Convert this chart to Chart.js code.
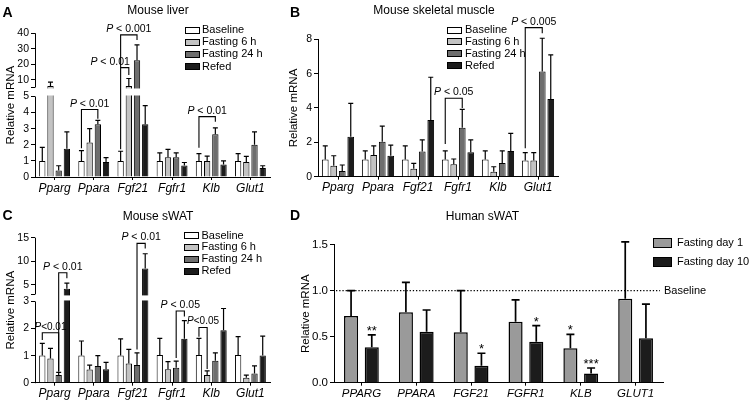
<!DOCTYPE html>
<html><head><meta charset="utf-8"><title>Fasting gene expression</title>
<script src="https://cdn.jsdelivr.net/npm/chart.js@4.4.1/dist/chart.umd.min.js"></script>
<style>
html,body{margin:0;padding:0;background:#fff;}
body{width:749px;height:402px;position:relative;overflow:hidden;font-family:"Liberation Sans",Arial,Helvetica,sans-serif;color:#000;}
canvas{position:absolute;}
.t{position:absolute;white-space:nowrap;}
.box{position:absolute;box-sizing:border-box;border:1px solid #000;}
</style></head><body>
<canvas id="cA" width="280" height="200" style="left:0px;top:0px"></canvas>
<canvas id="cB" width="285" height="200" style="left:283px;top:0px"></canvas>
<canvas id="cC" width="280" height="202" style="left:0px;top:200px"></canvas>
<canvas id="cD" width="454" height="202" style="left:295px;top:200px"></canvas>
<script>
// ---------- categories ----------
const mouseGenes = ['Pparg','Ppara','Fgf21','Fgfr1','Klb','Glut1'];
const humanGenes = ['PPARG','PPARA','FGF21','FGFR1','KLB','GLUT1'];
const mouseGroups = ['Baseline','Fasting 6 h','Fasting 24 h','Refed'];
const humanGroups = ['Fasting day 1','Fasting day 10'];

// ---------- A: mouse liver ----------
const liverBaseline = [1,1,1,1,1,1];
const liverFast6    = [6.0,2.15,6.0,1.22,1.0,0.93];
const liverFast24   = [0.4,3.27,22.6,1.22,2.65,2.0];
const liverRefed    = [1.76,0.93,3.27,0.72,0.77,0.56];
const liverBaselineErr = [1.84,1.64,1.6,1.5,1.45,1.45];
const liverFast6Err    = [8.4,3.0,10.8,1.72,1.3,1.28];
const liverFast24Err   = [0.7,3.52,32.5,1.5,3.05,2.8];
const liverRefedErr    = [2.8,1.2,4.43,0.9,1.0,0.7];
const liverTicksLow  = [0,1,2,3,4,5];
const liverTicksHigh = [5,10,20,30,40];
const liverBrackets = [
  {cat:1, from:0, to:2, level:4.19, footFrom:1.78, footTo:3.62, label:'P < 0.01'},
  {cat:2, from:0, to:1, level:17.8, footFrom:1.72, footTo:13.1, label:'P < 0.01', align:'right'},
  {cat:2, from:0, to:2, level:38.9, footFrom:17.8, footTo:35.6, label:'P < 0.001'},
  {cat:4, from:0, to:2, level:3.75, footFrom:1.82, footTo:3.43, label:'P < 0.01'}
];

// ---------- B: mouse skeletal muscle ----------
const muscleBaseline = [1,1,1,1,1,0.95];
const muscleFast6    = [0.64,1.26,0.47,0.72,0.29,0.95];
const muscleFast24   = [0.33,2.04,1.46,2.85,0.8,6.12];
const muscleRefed    = [2.33,1.22,3.3,1.42,1.5,4.52];
const muscleBaselineErr = [1.8,1.5,1.79,1.5,1.5,1.4];
const muscleFast6Err    = [1.22,1.8,0.78,1.03,0.58,1.4];
const muscleFast24Err   = [0.68,2.95,2.14,3.92,1.5,8.06];
const muscleRefedErr    = [4.27,1.84,5.79,2.14,2.52,7.09];
const muscleTicks = [0,2,4,6,8];
const muscleBrackets = [
  {cat:3, from:0, to:2, level:4.57, footFrom:1.9, footTo:4.0, label:'P < 0.05'},
  {cat:5, from:0, to:2, level:8.68, footFrom:1.65, footTo:8.35, label:'P < 0.005'}
];

// ---------- C: mouse sWAT ----------
const swatBaseline = [1,1,1,1.02,1.02,1.02];
const swatFast6    = [0.89,0.49,0.71,0.5,0.28,0.18];
const swatFast24   = [0.28,0.62,0.65,0.55,0.81,0.34];
const swatRefed    = [4.2,0.5,8.5,1.62,1.94,1.0];
const swatBaselineErr = [1.45,1.54,1.62,1.64,1.64,1.7];
const swatFast6Err    = [1.27,0.65,1.23,0.78,0.44,0.28];
const swatFast24Err   = [0.38,1.0,1.1,0.8,1.1,0.62];
const swatRefedErr    = [5.4,0.75,11.6,2.29,2.74,1.72];
const swatTicksLow  = [0,1,2,3];
const swatTicksHigh = [3,5,10,15];
const swatBrackets = [
  {cat:0, from:0, to:2, level:1.845, footFrom:1.58, footTo:0.41, label:'P<0.01'},
  {cat:0, from:2, to:3, level:7.58, footFrom:0.41, footTo:6.4, label:'P < 0.01'},
  {cat:2, from:2, to:3, level:13.8, footFrom:1.23, footTo:12.7, label:'P < 0.01'},
  {cat:3, from:2, to:3, level:2.65, footFrom:0.91, footTo:2.44, label:'P < 0.05'},
  {cat:4, from:0, to:1, level:2.04, footFrom:1.70, footTo:0.506, label:'P<0.05'}
];

// ---------- D: human sWAT ----------
const humanDay1     = [0.725,0.765,0.548,0.663,0.374,0.913];
const humanDay10    = [0.385,0.555,0.185,0.446,0.1,0.483];
const humanDay1Err  = [1.0,1.09,1.0,0.9,0.526,1.53];
const humanDay10Err = [0.52,0.79,0.32,0.62,0.16,0.855];
const humanDay1Stars  = ['','','','','*',''];
const humanDay10Stars = ['**','','*','*','***',''];
const humanTicks = [0,0.5,1.0,1.5];
const baselineLevel = 1.0;

// ---------- styling ----------
const FONT = '"Liberation Sans", Arial, Helvetica, sans-serif';
Chart.defaults.font.family = FONT;
Chart.defaults.color = '#000';
const mouseColors = ['#ffffff','#c3c3c3','#6e6e6e','#1c1c1c'];
const humanColors = ['#9a9a9a','#1c1c1c'];

function brokenAxis(lowMax, gap, factor){
  const up = v => lowMax + gap + (v - lowMax) * factor;
  return {lowMax, up, map: v => (v <= lowMax ? v : up(v))};
}
const liverAxis = brokenAxis(5, 0.56, 0.0963);
const swatAxis  = brokenAxis(3, 0.26, 0.1745);

function annotPlugin(cfg){
  return {
    id: 'annot',
    afterDatasetsDraw(chart){
      const ctx = chart.ctx, ys = chart.scales.y, a = chart.chartArea;
      const map = cfg.axis ? cfg.axis.map : (v => v);
      const py = v => ys.getPixelForValue(map(v));
      ctx.save();
      if (cfg.axis){
        const yLow = ys.getPixelForValue(cfg.axis.lowMax);
        const yUp = ys.getPixelForValue(cfg.axis.up(cfg.axis.lowMax));
        ctx.fillStyle = '#fff';
        ctx.fillRect(a.left + 1, yUp + 1, a.right - a.left, yLow - yUp - 2);
        ctx.strokeStyle = '#000'; ctx.lineWidth = 1;
        const x = Math.round(a.left) + 0.5;
        ctx.beginPath();
        ctx.moveTo(x, ys.getPixelForValue(0) + 0.5); ctx.lineTo(x, yLow);
        ctx.moveTo(x, yUp); ctx.lineTo(x, ys.getPixelForValue(ys.max));
        ctx.stroke();
      }
      if (cfg.refLine !== undefined){
        const y = py(cfg.refLine);
        ctx.strokeStyle = '#000'; ctx.lineWidth = 1.2; ctx.setLineDash([1.3, 1.9]);
        ctx.beginPath(); ctx.moveTo(a.left + 2, y); ctx.lineTo(a.right - 3, y); ctx.stroke();
        ctx.setLineDash([]);
        ctx.fillStyle = '#000'; ctx.font = '11px ' + FONT; ctx.textAlign = 'left'; ctx.textBaseline = 'middle';
        ctx.fillText('Baseline', a.right + 1, y);
      }
      ctx.strokeStyle = '#000'; ctx.lineWidth = cfg.errW;
      chart.data.datasets.forEach((ds, i) => {
        chart.getDatasetMeta(i).data.forEach((bar, j) => {
          const ye = py(ds.errTop[j]);
          ctx.beginPath();
          ctx.moveTo(bar.x, bar.y); ctx.lineTo(bar.x, ye);
          ctx.moveTo(bar.x - cfg.cap, ye); ctx.lineTo(bar.x + cfg.cap, ye);
          ctx.stroke();
          if (ds.stars && ds.stars[j]){
            ctx.fillStyle = '#000'; ctx.font = '13px ' + FONT; ctx.textAlign = 'center'; ctx.textBaseline = 'alphabetic';
            ctx.fillText(ds.stars[j], bar.x, ye + 0);
          }
        });
      });
      (cfg.brackets || []).forEach(b => {
        const x1 = chart.getDatasetMeta(b.from).data[b.cat].x;
        const x2 = chart.getDatasetMeta(b.to).data[b.cat].x;
        const yl = py(b.level);
        ctx.strokeStyle = '#000'; ctx.lineWidth = 1.1;
        ctx.beginPath();
        ctx.moveTo(x1, py(b.footFrom)); ctx.lineTo(x1, yl); ctx.lineTo(x2, yl); ctx.lineTo(x2, py(b.footTo));
        ctx.stroke();
        const compact = b.label.indexOf(' ') < 0;
        const fs = compact ? 10 : 10.5;
        const fi = 'italic ' + fs + 'px ' + FONT, fn = fs + 'px ' + FONT;
        const rest = b.label.slice(1);
        ctx.font = fi; const wP = ctx.measureText('P').width;
        ctx.font = fn; const wR = ctx.measureText(rest).width;
        const xs = b.align === 'right' ? x2 - (wP + wR) + 1 : (x1 + x2) / 2 - (wP + wR) / 2;
        ctx.fillStyle = '#000'; ctx.textAlign = 'left'; ctx.textBaseline = 'alphabetic';
        ctx.font = fi; ctx.fillText('P', xs, yl - 3);
        ctx.font = fn; ctx.fillText(rest, xs + wP, yl - 3);
      });
      ctx.restore();
    }
  };
}

function barChart(id, o){
  const map = o.axis ? o.axis.map : (v => v);
  let tickDefs;
  if (o.axis){
    tickDefs = o.ticksLow.map(v => ({value: v, label: String(v)}))
      .concat(o.ticksHigh.map((v, i) => ({value: o.axis.up(v), label: i === 0 ? '' : String(v)})));
  } else {
    tickDefs = o.ticks.map(v => ({value: v, label: o.fmt ? o.fmt(v) : String(v)}));
  }
  const datasets = o.groups.map((g, i) => ({
    label: g,
    data: o.values[i].map(map),
    errTop: o.errs[i],
    stars: o.stars ? o.stars[i] : null,
    backgroundColor: o.colors[i],
    borderColor: '#000',
    borderWidth: o.bw,
    categoryPercentage: o.cp,
    barPercentage: o.bp
  }));
  return new Chart(document.getElementById(id), {
    type: 'bar',
    data: {labels: o.labels, datasets},
    options: {
      responsive: false, devicePixelRatio: 1, animation: false,
      layout: {padding: {top: o.padTop, right: o.padRight, left: 0, bottom: 0}},
      plugins: {legend: {display: false}, tooltip: {enabled: false}, title: {display: false}},
      scales: {
        x: {
          offset: true,
          grid: {offset: false, drawOnChartArea: false, tickLength: 3, color: '#000', lineWidth: 1},
          border: {color: '#000', width: 1},
          ticks: {font: {size: o.xFont, style: 'italic'}, color: '#000', padding: 1, autoSkip: false, maxRotation: 0},
          afterFit: s => { s.height = o.xH; }
        },
        y: {
          min: 0, max: map(o.max),
          afterBuildTicks: s => { s.ticks = tickDefs.map(t => ({value: t.value})); },
          grid: {drawOnChartArea: false, tickLength: 4, color: '#000', lineWidth: 1},
          border: {display: !o.axis, color: '#000', width: 1},
          ticks: {autoSkip: false, padding: 2, color: '#000', font: {size: o.yFont}, callback: (v, i) => tickDefs[i] ? tickDefs[i].label : ''},
          title: {display: true, text: 'Relative mRNA', color: '#000', font: {size: 11.5}, padding: {top: 4, bottom: 0}},
          afterFit: s => { s.width = o.yW; }
        }
      }
    },
    plugins: [annotPlugin({axis: o.axis, brackets: o.brackets, errW: o.errW, cap: o.cap, refLine: o.refLine})]
  });
}

barChart('cA', {
  labels: mouseGenes, groups: mouseGroups, colors: mouseColors,
  values: [liverBaseline, liverFast6, liverFast24, liverRefed],
  errs: [liverBaselineErr, liverFast6Err, liverFast24Err, liverRefedErr],
  axis: liverAxis, ticksLow: liverTicksLow, ticksHigh: liverTicksHigh, max: 40,
  brackets: liverBrackets, bw: 1, cp: 0.837, bp: 0.77, errW: 1.2, cap: 2.5,
  padTop: 33.2, padRight: 10, xH: 23, yW: 35, xFont: 12, yFont: 10.5
});
barChart('cB', {
  labels: mouseGenes, groups: mouseGroups, colors: mouseColors,
  values: [muscleBaseline, muscleFast6, muscleFast24, muscleRefed],
  errs: [muscleBaselineErr, muscleFast6Err, muscleFast24Err, muscleRefedErr],
  ticks: muscleTicks, max: 8,
  brackets: muscleBrackets, bw: 1, cp: 0.85, bp: 0.79, errW: 1.2, cap: 2.5,
  padTop: 39.3, padRight: 10, xH: 23.3, yW: 35, xFont: 12, yFont: 10.5
});
barChart('cC', {
  labels: mouseGenes, groups: mouseGroups, colors: mouseColors,
  values: [swatBaseline, swatFast6, swatFast24, swatRefed],
  errs: [swatBaselineErr, swatFast6Err, swatFast24Err, swatRefedErr],
  axis: swatAxis, ticksLow: swatTicksLow, ticksHigh: swatTicksHigh, max: 15,
  brackets: swatBrackets, bw: 1, cp: 0.837, bp: 0.77, errW: 1.2, cap: 2.5,
  padTop: 37.7, padRight: 10, xH: 19.3, yW: 35, xFont: 12, yFont: 10.5
});
barChart('cD', {
  labels: humanGenes, groups: humanGroups, colors: humanColors,
  values: [humanDay1, humanDay10], errs: [humanDay1Err, humanDay10Err],
  stars: [humanDay1Stars, humanDay10Stars],
  ticks: humanTicks, fmt: v => v.toFixed(1), max: 1.5, refLine: baselineLevel,
  bw: 1.5, cp: 0.755, bp: 0.68, errW: 1.7, cap: 4,
  padTop: 44.7, padRight: 86, xH: 19.3, yW: 39, xFont: 11.5, yFont: 11.5
});

// ---------- HTML text: panel letters, titles, legends ----------
function addText(txt, x, cy, size, opt){
  opt = opt || {};
  const d = document.createElement('div');
  d.className = 't'; d.textContent = txt;
  d.style.fontSize = size + 'px'; d.style.lineHeight = size + 'px';
  d.style.top = (cy - size * 0.55) + 'px';
  d.style.left = x + 'px';
  if (opt.center) d.style.transform = 'translateX(-50%)';
  if (opt.bold) d.style.fontWeight = 'bold';
  document.body.appendChild(d);
}
function legend(x, y0, dy, names, colors, bw, bh, gap, size){
  names.forEach((n, i) => {
    const cy = y0 + i * dy;
    const b = document.createElement('div');
    b.className = 'box';
    b.style.left = x + 'px'; b.style.top = (cy - bh / 2) + 'px';
    b.style.width = bw + 'px'; b.style.height = bh + 'px';
    b.style.background = colors[i];
    document.body.appendChild(b);
    addText(n, x + bw + gap, cy, size);
  });
}
addText('A', 2.5, 12.5, 14, {bold: true});
addText('B', 290, 12.5, 14, {bold: true});
addText('C', 2.5, 215.5, 14, {bold: true});
addText('D', 290, 215.5, 14, {bold: true});
addText('Mouse liver', 158, 10.5, 12, {center: true});
addText('Mouse skeletal muscle', 434, 10.5, 12, {center: true});
addText('Mouse sWAT', 158, 216.7, 12, {center: true});
addText('Human sWAT', 482.5, 216.7, 12, {center: true});
legend(184.5, 30, 12.2, mouseGroups, mouseColors, 15, 7, 2.5, 11);
legend(447, 30, 11.9, mouseGroups, mouseColors, 15, 7, 3, 11);
legend(184, 235.7, 11.8, mouseGroups, mouseColors, 15, 7, 2.5, 11);
legend(653, 242.7, 19, humanGroups, humanColors, 19, 10, 5, 11);
</script>
</body></html>
